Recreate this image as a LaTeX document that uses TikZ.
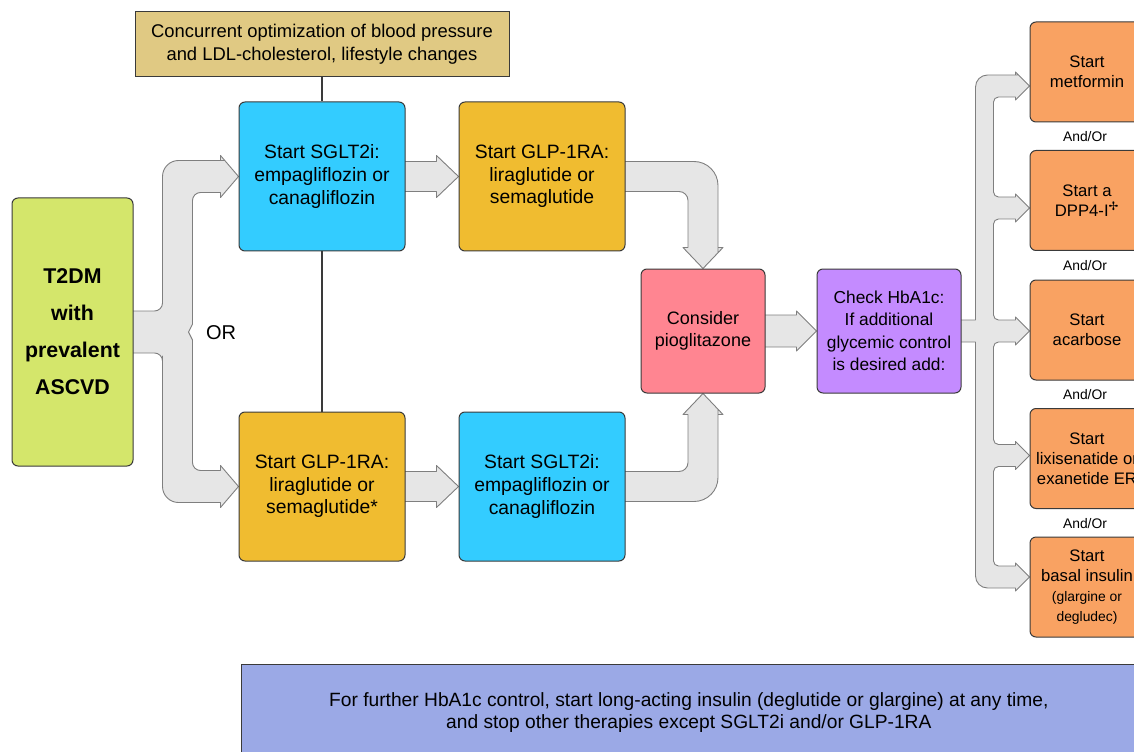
\documentclass[tikz,border=0pt]{standalone}
\usepackage{fontspec}
\setmainfont{Liberation Sans}
\newfontfamily\symfont{DejaVu Sans}
\usepackage{tikz}
\usetikzlibrary{calc}
\usetikzlibrary{backgrounds}
\definecolor{boxline}{HTML}{3A3A3A}
\definecolor{tanfill}{HTML}{E0C983}
\definecolor{greenfill}{HTML}{D4E66B}
\definecolor{cyanfill}{HTML}{33CCFF}
\definecolor{goldfill}{HTML}{F0BC30}
\definecolor{pinkfill}{HTML}{FF8591}
\definecolor{purplefill}{HTML}{C48BFF}
\definecolor{orangefill}{HTML}{F9A262}
\definecolor{bluefill}{HTML}{9BA9E6}
\definecolor{arrowfill}{HTML}{E6E6E6}
\definecolor{arrowline}{HTML}{7F7F7F}
\newcommand{\px}{0.75pt}
\tikzstyle{box} = [rectangle, rounded corners=6*\px, 
draw=boxline, 
line width=1*\px, 
text centered, 
align=center, 
inner sep=0pt]
\tikzstyle{topbox} = [box, sharp corners, fill=tanfill, 
minimum width=374*\px, minimum height=65*\px, 
font=\fontsize{13.8}{17.2}\selectfont]
\tikzstyle{startbox} = [box, fill=greenfill, 
minimum width=121*\px, minimum height=268*\px, 
font=\fontsize{16}{27.8}\selectfont\bfseries]
\tikzstyle{sgltbox} = [box, fill=cyanfill, 
minimum width=166*\px, minimum height=149*\px, 
font=\fontsize{14.5}{16.9}\selectfont]
\tikzstyle{glpbox} = [sgltbox, fill=goldfill]
\tikzstyle{piobox} = [box, fill=pinkfill, 
minimum width=124*\px, minimum height=124*\px, 
font=\fontsize{13.5}{17}\selectfont]
\tikzstyle{checkbox} = [box, fill=purplefill, 
minimum width=144*\px, minimum height=124*\px, 
font=\fontsize{13}{16.9}\selectfont]
\tikzstyle{addbox} = [box, fill=orangefill, 
minimum width=114*\px, minimum height=100*\px, 
font=\fontsize{12.5}{15}\selectfont]
\tikzstyle{andor} = [font=\fontsize{10.4}{12.5}\selectfont, inner sep=0pt]
\tikzstyle{notebox} = [box, sharp corners, fill=bluefill, 
minimum width=909*\px, minimum height=98*\px, 
font=\fontsize{14.4}{16.2}\selectfont]
\tikzstyle{link} = [draw=boxline, line width=1.2*\px]
\tikzstyle{blockarrow} = [fill=arrowfill, draw=arrowline, line width=0.9*\px, line join=round]
\newcommand{\smalltext}{\fontsize{10.4}{12.8}\selectfont}

\begin{document}
\begin{tikzpicture}[x=0.75pt, y=-0.75pt]
    \path[use as bounding box, clip] (0,0) rectangle (1134,752);

    \node (lifestyle) [topbox] at (322,44.5) {Concurrent optimization of blood pressure\\and LDL-cholesterol, lifestyle changes};
    \node (t2dm) [startbox] at (72.5,332) {T2DM\\with\\prevalent\\ASCVD};
    \node (sglt_a) [sgltbox] at (322,176.5) {Start SGLT2i:\\empagliflozin or\\canagliflozin};
    \node (glp_a) [glpbox] at (542,176.5) {Start GLP-1RA:\\liraglutide or\\semaglutide};
    \node (glp_b) [glpbox] at (322,486.5) {Start GLP-1RA:\\liraglutide or\\semaglutide*};
    \node (sglt_b) [sgltbox] at (542,486.5) {Start SGLT2i:\\empagliflozin or\\canagliflozin};
    \node (or) [font=\fontsize{15}{18}\selectfont] at (221,333) {OR};
    \node (pio) [piobox] at (703,331) {Consider\\pioglitazone};
    \node (check) [checkbox] at (889,331) {Check HbA1c:\\If additional\\glycemic control\\is desired add:};

    \node (metformin) [addbox] at (1087,72) {Start\\metformin};
    \node (dpp4) [addbox] at (1087,200.5) {Start a\\DPP4-I\textsuperscript{\symfont ✢}};
    \node (acarbose) [addbox] at (1087,330) {Start\\acarbose};
    \node (glp_add) [addbox] at (1087,458.5) {Start\\lixisenatide or\\exanetide ER};
    \node (basal) [addbox] at (1087,587) {Start\\basal insulin\\\smalltext(glargine or\\\smalltext degludec)};
    \node (andor1) [andor] at (1085,137) {And/Or};
    \node (andor2) [andor] at (1085,266) {And/Or};
    \node (andor3) [andor] at (1085,395) {And/Or};
    \node (andor4) [andor] at (1085,524) {And/Or};

    \node (further) [notebox] at (695.5,713) {\begin{tabular}{@{}c@{}}For further HbA1c control, start long-acting insulin (deglutide or glargine) at any time,\\and stop other therapies except SGLT2i and/or GLP-1RA\end{tabular}\hspace*{10pt}};

    % arrow tips on the add-on boxes
    \coordinate (tip_met) at ($(metformin.west)+(0,14)$);
    \coordinate (tip_dpp) at ($(dpp4.west)+(0,7.5)$);
    \coordinate (tip_aca) at ($(acarbose.west)+(0,1)$);
    \coordinate (tip_lix) at ($(glp_add.west)+(0,-3)$);
    \coordinate (tip_bas) at ($(basal.west)+(0,-10)$);

    \draw [link] (lifestyle) -- (sglt_a);
    \draw [link] (sglt_a) -- (glp_b);

    \begin{scope}[on background layer]
    \draw [blockarrow] ($(t2dm.east)+(-5,-21)$) [rounded corners=8*\px] -- ($(t2dm.east)+(29,-21)$) [rounded corners=16*\px] |- ($(sglt_a.west)+(-30,-16)$) [sharp corners] -- ($(sglt_a.west)+(-18,-16)$) -- ++(0,-5) -- (sglt_a.west) -- ++(-18,21) -- ++(0,-5) -- ($(sglt_a.west)+(-30,16)$) [rounded corners=8*\px] -| ($(t2dm.east)+(59,-20)$) [sharp corners] -- ($(t2dm.east)+(59,-8)$) -- ($(t2dm.east)+(55,0)$) -- ($(t2dm.east)+(59,8)$) -- ($(t2dm.east)+(59,20)$) [rounded corners=8*\px] |- ($(glp_b.west)+(-30,-16)$) [sharp corners] -- ($(glp_b.west)+(-18,-16)$) -- ++(0,-5) -- (glp_b.west) -- ++(-18,21) -- ++(0,-5) -- ($(glp_b.west)+(-30,16)$) [rounded corners=16*\px] -| ($(t2dm.east)+(29,40)$) [rounded corners=8*\px] -- ($(t2dm.east)+(29,21)$) -- ($(t2dm.east)+(10,21)$) [sharp corners] -- ($(t2dm.east)+(-5,21)$) -- cycle;
    \draw [blockarrow] ($(sglt_a.east)+(-5,-15)$) -- ($(glp_a.west)+(-22,-15)$) -- ++(0,-6) -- (glp_a.west) -- ++(-22,21) -- ++(0,-6) -- ($(sglt_a.east)+(-5,15)$) -- cycle;
    \draw [blockarrow] ($(glp_b.east)+(-5,-15)$) -- ($(sglt_b.west)+(-22,-15)$) -- ++(0,-6) -- (sglt_b.west) -- ++(-22,21) -- ++(0,-6) -- ($(glp_b.east)+(-5,15)$) -- cycle;
    \draw [blockarrow] ($(glp_a.east)+(-5,-15)$) [rounded corners=24*\px] -| ($(pio.north)+(15,-40)$) [sharp corners] -- ($(pio.north)+(15,-21)$) -- ++(5,0) -- (pio.north) -- ++(-20,-21) -- ++(5,0) -- ($(pio.north)+(-15,-40)$) [rounded corners=9*\px] |- ($(glp_a.east)+(10,15)$) [sharp corners] -- ($(glp_a.east)+(-5,15)$) -- cycle;
    \draw [blockarrow] ($(sglt_b.east)+(-5,15)$) [rounded corners=24*\px] -| ($(pio.south)+(15,40)$) [sharp corners] -- ($(pio.south)+(15,21)$) -- ++(5,0) -- (pio.south) -- ++(-20,21) -- ++(5,0) -- ($(pio.south)+(-15,40)$) [rounded corners=9*\px] |- ($(sglt_b.east)+(10,-15)$) [sharp corners] -- ($(sglt_b.east)+(-5,-15)$) -- cycle;
    \draw [blockarrow] ($(pio.east)+(-5,-16)$) -- ($(check.west)+(-20,-16)$) -- ++(0,-4) -- (check.west) -- ++(-20,20) -- ++(0,-4) -- ($(pio.east)+(-5,16)$) -- cycle;
    \draw [blockarrow] ($(check.east)+(-5,-11)$) -- ($(check.east)+(14,-11)$) [rounded corners=12*\px] |- ($(tip_met)+(-24,-11)$) [sharp corners] -- ($(tip_met)+(-14,-11)$) -- ++(0,-3) -- (tip_met) -- ++(-14,14) -- ++(0,-3) [rounded corners=5*\px] -| ($(tip_dpp)+(-36,-11)$) -- ($(tip_dpp)+(-24,-11)$) [sharp corners] -- ($(tip_dpp)+(-14,-11)$) -- ++(0,-3) -- (tip_dpp) -- ++(-14,14) -- ++(0,-3) [rounded corners=5*\px] -| ($(tip_aca)+(-36,-11)$) -- ($(tip_aca)+(-24,-11)$) [sharp corners] -- ($(tip_aca)+(-14,-11)$) -- ++(0,-3) -- (tip_aca) -- ++(-14,14) -- ++(0,-3) [rounded corners=5*\px] -| ($(tip_lix)+(-36,-11)$) -- ($(tip_lix)+(-24,-11)$) [sharp corners] -- ($(tip_lix)+(-14,-11)$) -- ++(0,-3) -- (tip_lix) -- ++(-14,14) -- ++(0,-3) [rounded corners=5*\px] -| ($(tip_bas)+(-36,-11)$) -- ($(tip_bas)+(-24,-11)$) [sharp corners] -- ($(tip_bas)+(-14,-11)$) -- ++(0,-3) -- (tip_bas) -- ++(-14,14) -- ++(0,-3) [rounded corners=12*\px] -| ($(check.east)+(14,30)$) [sharp corners] -- ($(check.east)+(14,11)$) -- ($(check.east)+(-5,11)$) -- cycle;
    \end{scope}

\end{tikzpicture}
\end{document}
